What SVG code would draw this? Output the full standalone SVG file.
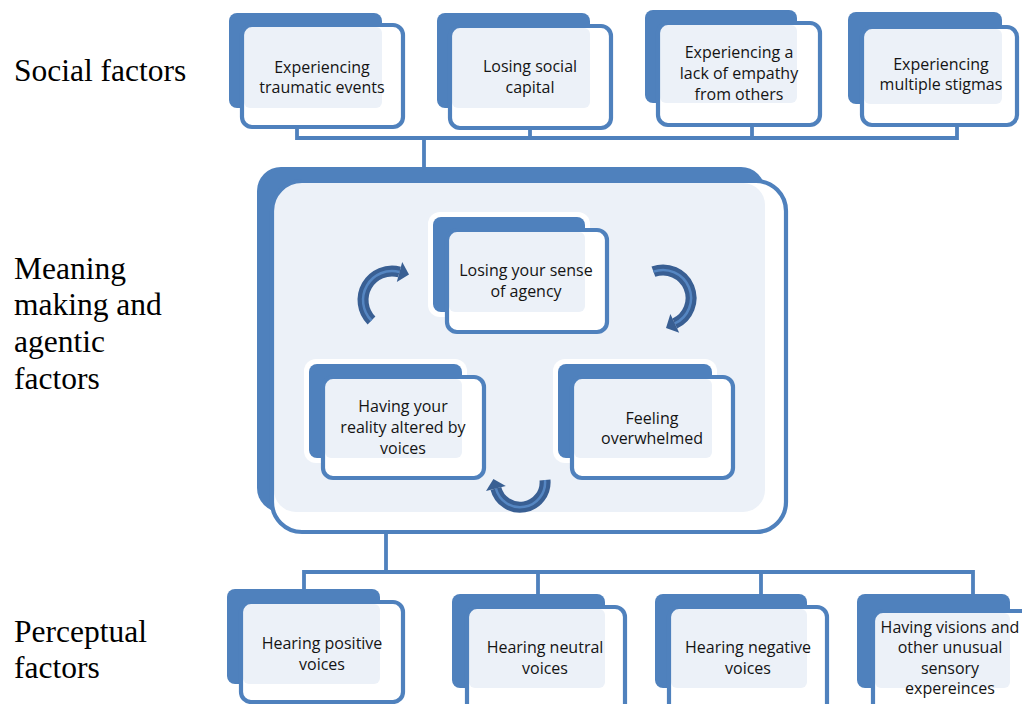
<svg xmlns="http://www.w3.org/2000/svg" width="1022" height="704" viewBox="0 0 1022 704">
<style>
.back{fill:#4F81BD}
.halo{fill:#FFFFFF}
.fw{fill:#FFFFFF}
.ov{fill:#ECF1F8}
.fo{fill:none;stroke:#4F81BD;stroke-width:4.2}
.t{font-family:"Open Sans","Liberation Sans",sans-serif;font-size:16px;fill:#141414;text-anchor:middle}
.lbl{font-family:"Liberation Serif","Times New Roman",serif;font-size:31.5px;fill:#000}
.conn{fill:none;stroke:#4F81BD;stroke-width:3.8}
.arc{fill:none;stroke:#395F93;stroke-width:11}
.arci{fill:none;stroke:#5586C2;stroke-width:2.5}
.ah{fill:#395F93}
</style>
<rect width="1022" height="704" fill="#FFFFFF"/>

<g id="labels">
<text class="lbl" x="14" y="81">Social factors</text>
<text class="lbl" x="14" y="279">Meaning</text>
<text class="lbl" x="14" y="315">making and</text>
<text class="lbl" x="14" y="352">agentic</text>
<text class="lbl" x="14" y="389">factors</text>
<text class="lbl" x="14" y="642">Perceptual</text>
<text class="lbl" x="14" y="678">factors</text>
</g>

<g id="connectors">
<path class="conn" d="M297,126 V138 H957 V124 M530,127 V138 M752,124 V138 M424,138 V169"/>
<path class="conn" d="M386,530 V572 M304,590 V572 H973 V595 M538,572 V595 M761,572 V595"/>
</g>

<g id="meaning-container">
<rect class="back" x="257" y="167" width="508" height="345" rx="24"/>
<rect class="fw" x="272" y="181" width="514" height="351" rx="30"/>
<rect class="ov" x="274" y="183" width="491" height="329" rx="22"/>
<rect class="fo" x="272" y="181" width="514" height="351" rx="30"/>
</g>

<g id="node-traumatic">
<rect class="back" x="229" y="13" width="153" height="95" rx="8"/>
<rect class="fw" x="242" y="25" width="161" height="102" rx="10"/>
<rect class="ov" x="244" y="27" width="138" height="81" rx="6"/>
<rect class="fo" x="242" y="25" width="161" height="102" rx="10"/>
<text class="t" x="322" y="73">Experiencing</text>
<text class="t" x="322" y="93">traumatic events</text>
</g>

<g id="node-social-capital">
<rect class="back" x="437" y="13" width="153" height="95" rx="8"/>
<rect class="fw" x="450" y="26" width="161" height="102" rx="10"/>
<rect class="ov" x="452" y="28" width="138" height="80" rx="6"/>
<rect class="fo" x="450" y="26" width="161" height="102" rx="10"/>
<text class="t" x="530" y="72">Losing social</text>
<text class="t" x="530" y="93">capital</text>
</g>

<g id="node-empathy">
<rect class="back" x="645" y="10" width="152" height="93" rx="8"/>
<rect class="fw" x="658" y="23" width="162" height="102" rx="10"/>
<rect class="ov" x="660" y="25" width="137" height="78" rx="6"/>
<rect class="fo" x="658" y="23" width="162" height="102" rx="10"/>
<text class="t" x="739" y="58">Experiencing a</text>
<text class="t" x="739" y="79">lack of empathy</text>
<text class="t" x="739" y="100">from others</text>
</g>

<g id="node-stigmas">
<rect class="back" x="848" y="12" width="154" height="92" rx="8"/>
<rect class="fw" x="862" y="27" width="155" height="98" rx="10"/>
<rect class="ov" x="864" y="29" width="138" height="75" rx="6"/>
<rect class="fo" x="862" y="27" width="155" height="98" rx="10"/>
<text class="t" x="941" y="70">Experiencing</text>
<text class="t" x="941" y="90">multiple stigmas</text>
</g>

<g id="node-agency">
<rect class="halo" x="428" y="212" width="162" height="105" rx="12"/>
<rect class="back" x="433" y="217" width="152" height="95" rx="8"/>
<rect class="fw" x="447" y="230" width="160" height="102" rx="10"/>
<rect class="ov" x="449" y="232" width="136" height="80" rx="6"/>
<rect class="fo" x="447" y="230" width="160" height="102" rx="10"/>
<text class="t" x="526" y="276">Losing your sense</text>
<text class="t" x="526" y="297">of agency</text>
</g>

<g id="node-reality">
<rect class="halo" x="304" y="359" width="163" height="104" rx="12"/>
<rect class="back" x="309" y="364" width="153" height="94" rx="8"/>
<rect class="fw" x="323" y="377" width="161" height="101" rx="10"/>
<rect class="ov" x="325" y="379" width="137" height="79" rx="6"/>
<rect class="fo" x="323" y="377" width="161" height="101" rx="10"/>
<text class="t" x="403" y="412">Having your</text>
<text class="t" x="403" y="433">reality altered by</text>
<text class="t" x="403" y="454">voices</text>
</g>

<g id="node-overwhelmed">
<rect class="halo" x="553" y="359" width="164" height="104" rx="12"/>
<rect class="back" x="558" y="364" width="154" height="94" rx="8"/>
<rect class="fw" x="572" y="377" width="161" height="101" rx="10"/>
<rect class="ov" x="574" y="379" width="138" height="79" rx="6"/>
<rect class="fo" x="572" y="377" width="161" height="101" rx="10"/>
<text class="t" x="652" y="424">Feeling</text>
<text class="t" x="652" y="444">overwhelmed</text>
</g>

<g id="cycle-arrows">
<path class="arc" d="M371.5,320.5 A29,29 0 0 1 399.5,272"/>
<path class="arci" d="M371.5,320.5 A29,29 0 0 1 399.5,272"/>
<polygon class="ah" points="409,274.5 402.2,262 396.8,282"/>
<path class="arc" d="M653.4,271.7 A28,28 0 0 1 674.8,323.4"/>
<path class="arci" d="M653.4,271.7 A28,28 0 0 1 674.8,323.4"/>
<polygon class="ah" points="666,328 679.2,332.8 670.4,314"/>
<path class="arc" d="M545,480 A25,25 0 0 1 495.9,488.5"/>
<path class="arci" d="M545,480 A25,25 0 0 1 495.9,488.5"/>
<polygon class="ah" points="493.4,479 486,491 505.8,486"/>
</g>

<g id="node-positive">
<rect class="back" x="227" y="589" width="153" height="95" rx="8"/>
<rect class="fw" x="241" y="602" width="162" height="100" rx="10"/>
<rect class="ov" x="243" y="604" width="137" height="80" rx="6"/>
<rect class="fo" x="241" y="602" width="162" height="100" rx="10"/>
<text class="t" x="322" y="649">Hearing positive</text>
<text class="t" x="322" y="670">voices</text>
</g>

<g id="node-neutral">
<rect class="back" x="452" y="594" width="153" height="94" rx="8"/>
<rect class="fw" x="467" y="607" width="158" height="110" rx="10"/>
<rect class="ov" x="469" y="609" width="136" height="79" rx="6"/>
<rect class="fo" x="467" y="607" width="158" height="110" rx="10"/>
<text class="t" x="545" y="653">Hearing neutral</text>
<text class="t" x="545" y="674">voices</text>
</g>

<g id="node-negative">
<rect class="back" x="655" y="594" width="152" height="94" rx="8"/>
<rect class="fw" x="669" y="607" width="158" height="110" rx="10"/>
<rect class="ov" x="671" y="609" width="136" height="79" rx="6"/>
<rect class="fo" x="669" y="607" width="158" height="110" rx="10"/>
<text class="t" x="748" y="653">Hearing negative</text>
<text class="t" x="748" y="674">voices</text>
</g>

<g id="node-visions">
<rect class="back" x="857" y="594" width="153" height="94" rx="8"/>
<rect class="fw" x="873" y="611" width="160" height="110" rx="10"/>
<rect class="ov" x="875" y="613" width="135" height="75" rx="6"/>
<rect class="fo" x="873" y="611" width="160" height="110" rx="10"/>
<text class="t" x="950" y="633">Having visions and</text>
<text class="t" x="950" y="653">other unusual</text>
<text class="t" x="950" y="674">sensory</text>
<text class="t" x="950" y="694">expereinces</text>
</g>
</svg>
